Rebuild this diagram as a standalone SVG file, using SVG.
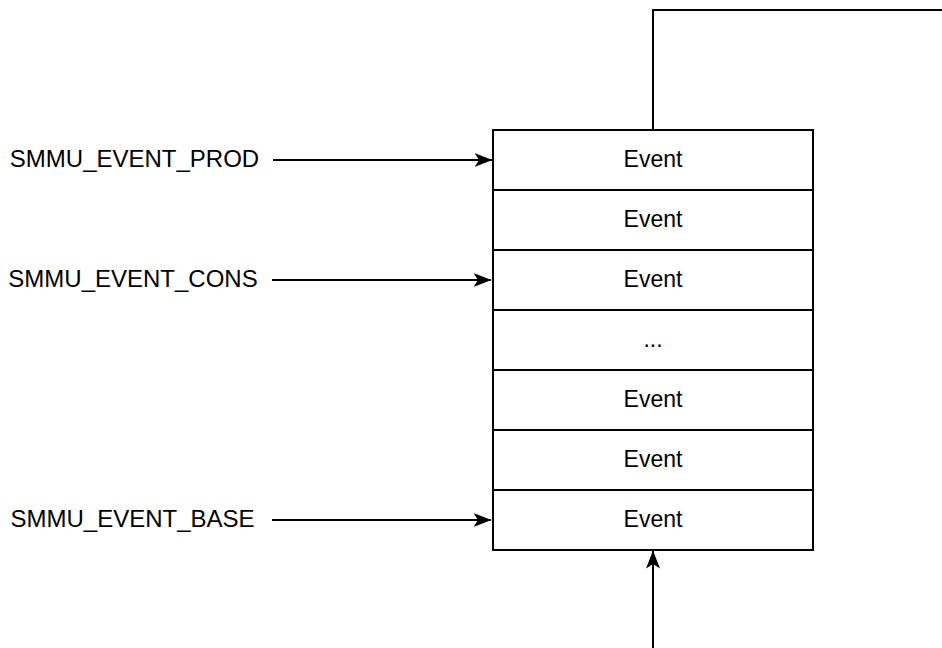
<svg xmlns="http://www.w3.org/2000/svg" width="942" height="648" viewBox="0 0 942 648">
  <style>
    .cell { fill: #ffffff; stroke: #000000; stroke-width: 2; }
    .txt { font-family: "Liberation Sans", Arial, sans-serif; fill: #000000; }
    .ev { font-size: 23px; text-anchor: middle; }
    .reg { font-size: 24px; text-anchor: middle; }
    .wire { fill: none; stroke: #000000; stroke-width: 2; }
  </style>
  <defs>
    <marker id="arrow" viewBox="0 0 18 14" refX="17.5" refY="7" markerWidth="18" markerHeight="14" markerUnits="userSpaceOnUse" orient="auto">
      <path d="M0,0 L18,7 L0,14 L4.5,7 Z" fill="#000000"/>
    </marker>
  </defs>

  <!-- event queue: stacked entries -->
  <g id="queue">
    <g id="entry0"><rect class="cell" x="493" y="130" width="320" height="60"/><text class="txt ev" x="653" y="167">Event</text></g>
    <g id="entry1"><rect class="cell" x="493" y="190" width="320" height="60"/><text class="txt ev" x="653" y="227">Event</text></g>
    <g id="entry2"><rect class="cell" x="493" y="250" width="320" height="60"/><text class="txt ev" x="653" y="287">Event</text></g>
    <g id="entry3"><rect class="cell" x="493" y="310" width="320" height="60"/><text class="txt ev" x="653" y="347">...</text></g>
    <g id="entry4"><rect class="cell" x="493" y="370" width="320" height="60"/><text class="txt ev" x="653" y="407">Event</text></g>
    <g id="entry5"><rect class="cell" x="493" y="430" width="320" height="60"/><text class="txt ev" x="653" y="467">Event</text></g>
    <g id="entry6"><rect class="cell" x="493" y="490" width="320" height="60"/><text class="txt ev" x="653" y="527">Event</text></g>
  </g>

  <!-- register labels -->
  <g id="prod"><text class="txt reg" x="134.5" y="167">SMMU_EVENT_PROD</text></g>
  <g id="cons"><text class="txt reg" x="133" y="287">SMMU_EVENT_CONS</text></g>
  <g id="base"><text class="txt reg" x="132.5" y="527">SMMU_EVENT_BASE</text></g>

  <!-- connectors -->
  <g id="connectors">
    <path class="wire" d="M273,160 L492,160" marker-end="url(#arrow)"/>
    <path class="wire" d="M272,280 L491,280" marker-end="url(#arrow)"/>
    <path class="wire" d="M272,520 L491,520" marker-end="url(#arrow)"/>
    <path class="wire" d="M653,648 L653,551" marker-end="url(#arrow)"/>
    <path class="wire" d="M653,130 L653,10 L942,10"/>
  </g>
</svg>
